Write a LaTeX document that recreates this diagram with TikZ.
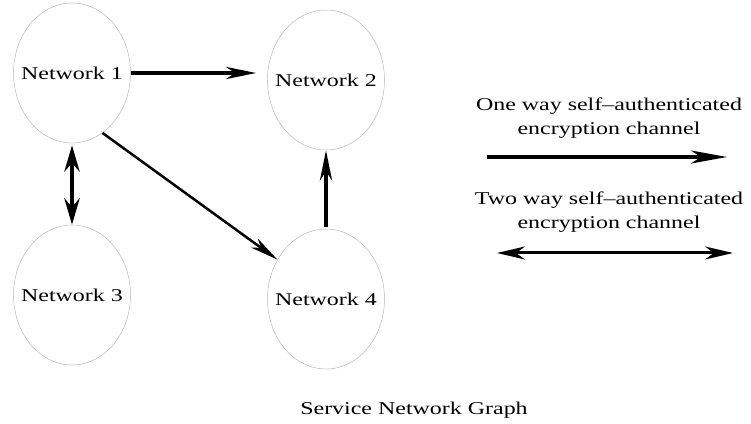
\documentclass[tikz,border=0pt]{standalone}
\usepackage{fontspec}
\setmainfont{Liberation Serif}
\usepackage{graphicx}
\usepackage{tikz}
\usetikzlibrary{arrows.meta, shapes.geometric}

% glyphs in the figure are drawn wide; zero width keeps the ellipse size fixed
\newcommand{\widetxt}[1]{\scalebox{1.33}[1]{#1}}
\newcommand{\netname}[1]{\makebox[0pt]{\widetxt{#1}}}

\begin{document}
\begin{tikzpicture}[x=1pt, y=1pt,
  net/.style={ellipse, draw=gray!55, line width=0.5pt, minimum width=117pt,
              minimum height=140pt, inner sep=0pt, font=\fontsize{18}{22}\selectfont},
  legend/.style={align=center, font=\fontsize{18}{24}\selectfont},
  chan/.style={line width=#1, -{Stealth[length=30pt, width=12pt, inset=9pt]}},
  twochan/.style={line width=#1, {Stealth[length=28pt, width=13pt, inset=9pt]}-{Stealth[length=28pt, width=13pt, inset=9pt]}}
]
\useasboundingbox (0,0) rectangle (751,423);

% -------------------------------------------------------
% 1. Networks
% -------------------------------------------------------
\node[net] (n1) at (72,350) {\netname{Network 1}};
\node[net] (n2) at (326,343) {\netname{Network 2}};
\node[net] (n3) at (72,128) {\netname{Network 3}};
\node[net] (n4) at (326,124) {\netname{Network 4}};

% -------------------------------------------------------
% 2. Channels between networks
% -------------------------------------------------------
\draw[chan=4pt, shorten >=11pt] (n1.east) -- (n1.east -| n2.west);
\draw[line width=4.5pt, {Stealth[length=26pt, width=15pt, inset=8pt]}-{Stealth[length=26pt, width=15pt, inset=8pt]}, shorten <=2pt] (n1.south) -- (n3.north);
\draw[line width=2.5pt, -{Stealth[length=28pt, width=11pt, inset=8pt]}] (n1.-63) -- (n4.141);
\draw[chan=4.5pt, shorten <=2pt] (n4.north) -- (n2.south);

% -------------------------------------------------------
% 3. Legend
% -------------------------------------------------------
\node[legend] (one) at (609,305) {\widetxt{One way self--authenticated}\\\widetxt{encryption channel}};
\coordinate (oneA) at (487,266);
\coordinate (oneB) at (727,266);
\draw[line width=3.5pt, -{Stealth[length=36pt, width=13pt, inset=10pt]}] (oneA) -- (oneB);

\node[legend] (two) at (609,211) {\widetxt{Two way self--authenticated}\\\widetxt{encryption channel}};
\coordinate (twoA) at (497,170);
\coordinate (twoB) at (733,170);
\draw[twochan=3pt] (twoA) -- (twoB);

% caption
\node[font=\fontsize{18}{22}\selectfont] (cap) at (414,13) {\widetxt{Service Network Graph}};

\end{tikzpicture}
\end{document}
